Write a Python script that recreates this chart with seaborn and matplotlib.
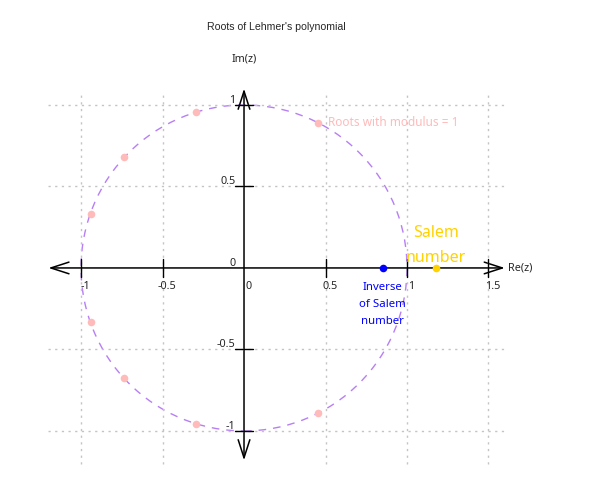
import numpy as np
import pandas as pd
import matplotlib
matplotlib.use("Agg")
import matplotlib.pyplot as plt
from matplotlib.patches import Circle, FancyArrowPatch
import seaborn as sns

# Raízes do polinômio de Lehmer
raiz_re = [0.455, -0.294, -0.735, -0.941, -0.941, -0.735, -0.294, 0.455]
raiz_im = [0.890, 0.956, 0.678, 0.333, -0.333, -0.678, -0.956, -0.890]
salem = 1.176
inverso_salem = 0.850

xticks = [-1, -0.5, 0.5, 1, 1.5]
xtick_labels = ["-1", "-0.5", "0.5", "1", "1.5"]
yticks = [-1, -0.5, 0.5, 1]
ytick_labels = ["-1", "-0.5", "0.5", "1"]
grid_x = [-1, -0.5, 0.5, 1, 1.5]
grid_y = [-1, -0.5, 0.5, 1]

sns.set_style("white")
plt.rcParams['font.family'] = ['Noto Sans', 'DejaVu Sans']

fig = plt.figure(figsize=(6, 4.8), dpi=100)
ax = fig.add_axes([0, 0, 1, 1])
ax.set_xlim(-1.497, 2.184)
ax.set_ylim(-1.301, 1.644)
ax.set_aspect('equal')
ax.axis('off')

# Grade pontilhada
ax.vlines(grid_x, -1.2, 1.07, colors='#c4c4c4', linestyles=(0, (1.6, 3.2)), linewidth=1)
ax.hlines(grid_y, -1.2, 1.6, colors='#c4c4c4', linestyles=(0, (1.6, 3.2)), linewidth=1)

# Círculo unitário
ax.add_patch(Circle((0, 0), 1, fill=False, edgecolor='#b77ff5', linestyle=(0, (5.5, 5)), linewidth=1))

# Eixos com setas
for p0, p1 in [((-1.2, 0), (1.6, 0)), ((0, -1.18), (0, 1.1))]:
    ax.add_patch(FancyArrowPatch(p0, p1, arrowstyle='<->,head_length=1.3,head_width=0.42',
                                 mutation_scale=10, color='black', linewidth=1.1,
                                 shrinkA=0, shrinkB=0))

# Marcas dos eixos
t = 0.053
for x in xticks:
    ax.plot([x, x], [-t, t], color='black', linewidth=1)
for y in yticks:
    ax.plot([-t, t], [y, y], color='black', linewidth=1)

for x, lab in zip(xticks + [0], xtick_labels + ["0"]):
    ax.annotate(lab, (x, 0), xytext=(3.3, -13), textcoords='offset points',
                ha='center', va='center', fontsize=7.8)
for y, lab in zip(yticks + [0], ytick_labels + ["0"]):
    ax.annotate(lab, (0, y), xytext=(-6.0, 3.4), textcoords='offset points',
                ha='right', va='center', fontsize=7.8)

ax.annotate("Re(z)", (1.6, 0), xytext=(2, 0), textcoords='offset points',
            ha='left', va='center', fontsize=7.8)
ax.annotate("Im(z)", (0, 1.1), xytext=(0, 21), textcoords='offset points',
            ha='center', va='center', fontsize=7.8)

# Pontos
df_raiz = pd.DataFrame({'re': raiz_re, 'im': raiz_im})
sns.scatterplot(data=df_raiz, x='re', y='im', color='#ffbaba', s=30, linewidth=0, ax=ax, zorder=5)
sns.scatterplot(x=[inverso_salem], y=[0], color='#0000ff', s=30, linewidth=0, ax=ax, zorder=5)
sns.scatterplot(x=[salem], y=[0], color='#ffd200', s=30, linewidth=0, ax=ax, zorder=5)

ax.annotate("Roots with modulus = 1", (raiz_re[0], raiz_im[0]), xytext=(7, 0),
            textcoords='offset points', ha='left', va='center', fontsize=8.5, color='#ffbaba')
ax.annotate("Inverse\nof Salem\nnumber", (inverso_salem, 0), xytext=(0, -26),
            textcoords='offset points', ha='center', va='center', fontsize=8.2,
            color='#0000ff', linespacing=1.75)
ax.annotate("Salem\nnumber", (salem, 0), xytext=(0, 16.5),
            textcoords='offset points', ha='center', va='center', fontsize=11.5,
            color='#ffd200', linespacing=1.75)

fig.text(276 / 600, 1 - 27 / 480, "Roots of Lehmer's polynomial", ha='center', va='center',
         fontsize=7.6, family='Liberation Sans')

fig.savefig('out.png', dpi=100)
